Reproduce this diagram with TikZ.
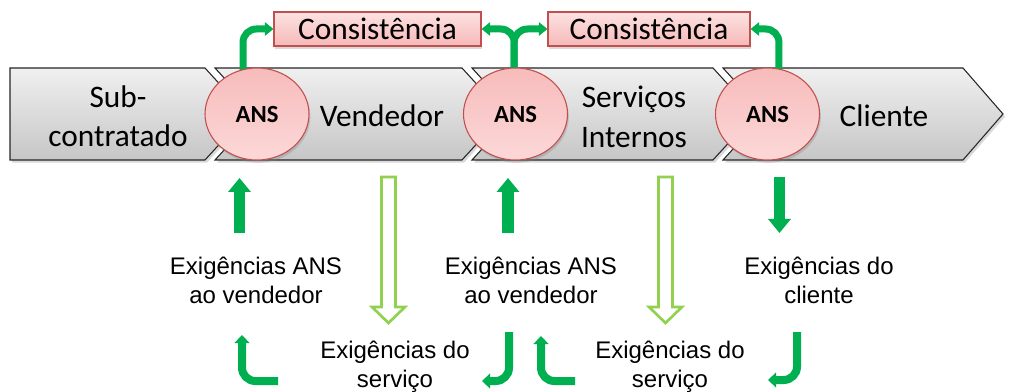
\documentclass[tikz,border=0pt]{standalone}
\usepackage{fontspec}
\setmainfont{Carlito}
\newfontfamily\arialf{Liberation Sans}
\usetikzlibrary{shapes.geometric,arrows.meta,shadows}
\definecolor{dkgreen}{HTML}{00B050}
\definecolor{ltgreen}{HTML}{92D050}
\definecolor{redline}{HTML}{C0504D}
\definecolor{pinktop}{HTML}{FDE2E2}
\definecolor{pinkbot}{HTML}{F6B8B8}
\definecolor{elltop}{HTML}{F7BBBB}
\definecolor{ellbot}{HTML}{FCD8D8}
\definecolor{greytop}{HTML}{F0F0F0}
\definecolor{greybot}{HTML}{C6C6C6}
\pgfdeclarelayer{bg}
\pgfdeclarelayer{mid}
\pgfsetlayers{bg,mid,main}
\tikzset{
  chev/.style={draw=black!85, line width=0.8pt, top color=greytop, bottom color=greybot,
    drop shadow={opacity=0.3, shadow xshift=1.5pt, shadow yshift=-2pt}},
  ansnode/.style={ellipse, draw=redline, line width=0.8pt, top color=elltop, bottom color=ellbot,
    minimum width=78pt, minimum height=69pt, inner sep=0pt,
    font=\fontsize{18.5}{20}\selectfont\bfseries,
    drop shadow={opacity=0.3, shadow xshift=1pt, shadow yshift=-2pt}},
  conbox/.style={rectangle, draw=redline, line width=0.8pt, top color=pinktop, bottom color=pinkbot,
    minimum height=25.5pt, inner sep=0pt, font=\fontsize{23.5}{28}\selectfont,
    drop shadow={opacity=0.3, shadow xshift=1pt, shadow yshift=-2pt}},
  bigtext/.style={align=center, font=\fontsize{23.5}{29.5}\selectfont, inner sep=0pt},
  reqtext/.style={align=center, font=\arialf\fontsize{18}{21.75}\selectfont, inner sep=0pt},
  toparrow/.style={draw=dkgreen, line width=5.25pt, rounded corners=10pt,
    -{Triangle[width=10pt,length=6.5pt]}},
  solidarrow/.style={draw=dkgreen, line width=8.5pt, -{Triangle[width=16.5pt,length=10.5pt]}},
  retarrow/.style={draw=dkgreen, line width=6pt, rounded corners=10pt,
    -{Triangle[width=11pt,length=6pt]}},
  hollowarrow/.style={draw=ltgreen, line width=2pt, fill=white},
}
\begin{document}
\begin{tikzpicture}[x=0.75pt,y=-0.75pt]
\useasboundingbox (0,0) rectangle (1014,392);
% chevrons
\begin{pgfonlayer}{bg}
\draw[chev] (10,68) -- (205,68) -- (247,114) -- (205,160) -- (10,160) -- cycle;
\draw[chev] (215,68) -- (462,68) -- (504,114) -- (462,160) -- (215,160) -- (257,114) -- cycle;
\draw[chev] (472,68) -- (713,68) -- (755,114) -- (713,160) -- (472,160) -- (514,114) -- cycle;
\draw[chev] (723,68) -- (963,68) -- (1003,114) -- (963,160) -- (723,160) -- (765,114) -- cycle;
\end{pgfonlayer}
% chevron texts
\node[bigtext] (sub) at (118,116) {Sub-\\contratado};
\node[bigtext] (vend) at (382,116) {Vendedor};
\node[bigtext] (serv) at (634,117) {Serviços\\Internos};
\node[bigtext] (cli) at (884,116) {Cliente};
% ANS ellipses
\node[ansnode] (ans1) at (257,114) {ANS};
\node[ansnode] (ans2) at (515.5,114) {ANS};
\node[ansnode] (ans3) at (767.5,114) {ANS};
% consistency boxes
\node[conbox, minimum width=155.25pt] (con1) at (377.5,29) {Consistência};
\node[conbox, minimum width=151.5pt] (con2) at (649,29) {Consistência};
% top arrows
\begin{pgfonlayer}{mid}
\draw[toparrow] ([xshift=-10.5pt]ans1.center) |- (con1.west);
\draw[toparrow] ([xshift=-1pt]ans2.center) |- (con1.east);
\draw[toparrow] ([xshift=-1pt]ans2.center) |- (con2.west);
\draw[toparrow] ([xshift=8.6pt]ans3.center) |- (con2.east);
\end{pgfonlayer}
% requirement labels
\node[reqtext] (req1) at (256,280) {Exigências ANS\\ao vendedor};
\node[reqtext] (req2) at (531,280) {Exigências ANS\\ao vendedor};
\node[reqtext] (req3) at (819,280) {Exigências do\\cliente};
\node[reqtext] (srv1) at (395,367) {Exigências do\\serviço};
\node[reqtext] (srv2) at (670,367) {Exigências do\\serviço};
% solid vertical arrows
\coordinate (u1a) at (239.5,233); \coordinate (u1b) at (239.5,178);
\coordinate (u2a) at (508,233); \coordinate (u2b) at (508,178);
\coordinate (d3a) at (779.5,177); \coordinate (d3b) at (779.5,233);
\draw[solidarrow] (u1a) -- (u1b);
\draw[solidarrow] (u2a) -- (u2b);
\draw[solidarrow] (d3a) -- (d3b);
% hollow arrows
\coordinate (h1) at (388.5,177);
\coordinate (h2) at (665.5,177);
\draw[hollowarrow] (h1) ++(-7,0) -- ++(0,130) -- ++(-9.5,0) -- ++(16.5,16) -- ++(16.5,-16) -- ++(-9.5,0) -- ++(0,-130) -- cycle;
\draw[hollowarrow] (h2) ++(-7,0) -- ++(0,130) -- ++(-9.5,0) -- ++(16.5,16) -- ++(16.5,-16) -- ++(-9.5,0) -- ++(0,-130) -- cycle;
% return arrows
\coordinate (r1a) at (278,381); \coordinate (r1b) at (242,335);
\coordinate (r2a) at (509,332); \coordinate (r2b) at (482,381);
\coordinate (r3a) at (575,381); \coordinate (r3b) at (541,336);
\coordinate (r4a) at (797,332); \coordinate (r4b) at (768,380);
\draw[retarrow] (r1a) -| (r1b);
\draw[retarrow] (r2a) |- (r2b);
\draw[retarrow] (r3a) -| (r3b);
\draw[retarrow] (r4a) |- (r4b);
\end{tikzpicture}
\end{document}
